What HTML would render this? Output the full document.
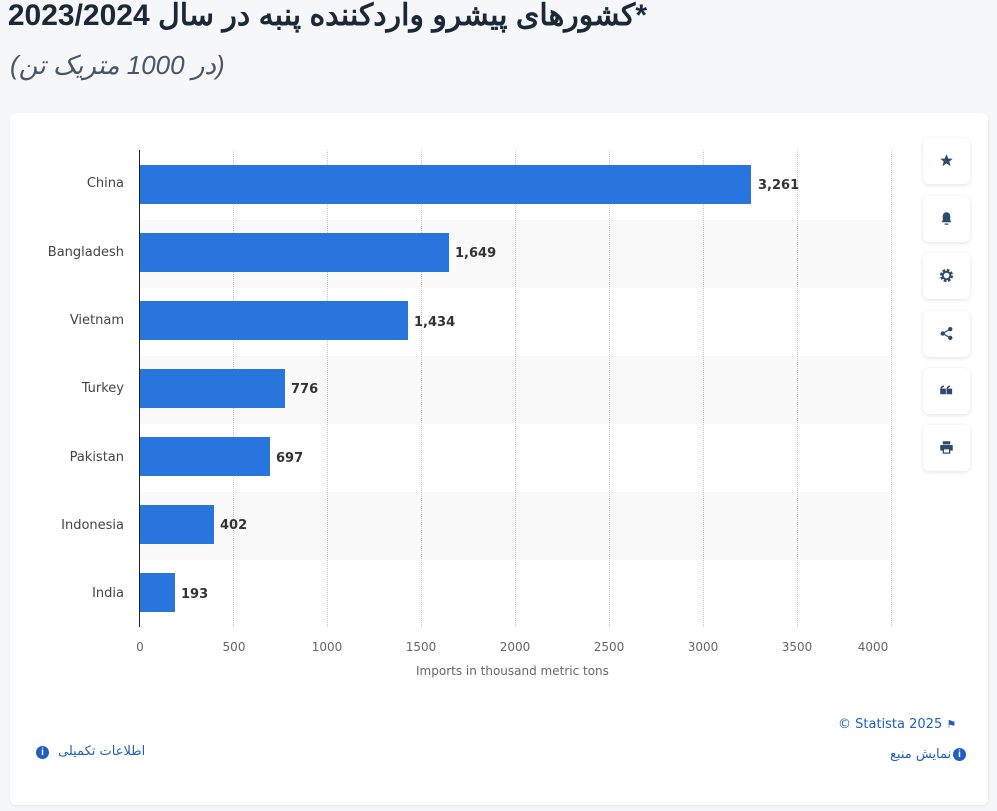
<!DOCTYPE html>
<html><head><meta charset="utf-8"><style>
body{margin:0;width:997px;height:811px;background:#f6f7f9;font-family:"Liberation Sans","DejaVu Sans",sans-serif;position:relative;overflow:hidden}
.abs{position:absolute}
.title{right:350px;top:-2px;font-size:30px;font-weight:bold;color:#1b2838;direction:rtl;white-space:nowrap;font-family:"Liberation Sans","Noto Sans CJK SC",sans-serif}
.sub{left:10px;top:50px;font-size:26px;font-style:italic;color:#4a5568;direction:rtl;white-space:nowrap}
.card{left:10px;top:113px;width:978px;height:692px;background:#fff;border-radius:6px;box-shadow:0 1px 3px rgba(0,0,0,.08)}
.stripe{left:139px;width:751px;height:68px;background:#f9f9f9}
.grid{top:150px;height:477px;width:0;border-left:1px dotted #c8c8c8}
.bar{left:140px;height:39px;background:#2876dd}
.val{font-size:13px;font-weight:bold;color:#333;font-family:"DejaVu Sans",sans-serif}
.cat{right:873px;font-size:13px;color:#444;font-family:"DejaVu Sans",sans-serif;text-align:right}
.tick{top:640px;font-size:12px;color:#666;font-family:"DejaVu Sans",sans-serif;width:50px;text-align:center}
.btn{left:923px;width:47px;height:46px;background:#fff;border-radius:6px;box-shadow:0 1px 4px rgba(0,0,0,.12)}
.btn svg{position:absolute;left:16px;top:15px}
.info{width:13px;height:13px;border-radius:50%;background:#1d5fc2;color:#fff;font-size:10px;font-weight:bold;text-align:center;line-height:13px}
.link{font-size:13px;color:#1d5fc2;font-family:"DejaVu Sans",sans-serif}
</style></head><body>
<div class="abs title">*کشورهای پیشرو واردکننده پنبه در سال 2023/2024</div>
<div class="abs sub">(در 1000 متریک تن)</div>
<div class="abs card"></div>
<div class="abs stripe" style="top:220px"></div>
<div class="abs stripe" style="top:356px"></div>
<div class="abs stripe" style="top:492px"></div>
<div class="abs grid" style="left:233px"></div>
<div class="abs grid" style="left:327px"></div>
<div class="abs grid" style="left:421px"></div>
<div class="abs grid" style="left:515px"></div>
<div class="abs grid" style="left:609px"></div>
<div class="abs grid" style="left:703px"></div>
<div class="abs grid" style="left:797px"></div>
<div class="abs grid" style="left:891px"></div>
<div class="abs" style="left:139px;top:150px;width:1px;height:477px;background:#222"></div>
<div class="abs bar" style="top:165px;width:611px"></div><div class="abs val" style="left:758px;top:178px">3,261</div><div class="abs cat" style="top:176px">China</div>
<div class="abs bar" style="top:233px;width:309px"></div><div class="abs val" style="left:455px;top:246px">1,649</div><div class="abs cat" style="top:245px">Bangladesh</div>
<div class="abs bar" style="top:301px;width:268px"></div><div class="abs val" style="left:414px;top:315px">1,434</div><div class="abs cat" style="top:313px">Vietnam</div>
<div class="abs bar" style="top:369px;width:145px"></div><div class="abs val" style="left:291px;top:382px">776</div><div class="abs cat" style="top:381px">Turkey</div>
<div class="abs bar" style="top:437px;width:130px"></div><div class="abs val" style="left:276px;top:451px">697</div><div class="abs cat" style="top:450px">Pakistan</div>
<div class="abs bar" style="top:505px;width:74px"></div><div class="abs val" style="left:220px;top:518px">402</div><div class="abs cat" style="top:518px">Indonesia</div>
<div class="abs bar" style="top:573px;width:35px"></div><div class="abs val" style="left:181px;top:587px">193</div><div class="abs cat" style="top:586px">India</div>
<div class="abs tick" style="left:115px">0</div>
<div class="abs tick" style="left:209px">500</div>
<div class="abs tick" style="left:302px">1000</div>
<div class="abs tick" style="left:396px">1500</div>
<div class="abs tick" style="left:490px">2000</div>
<div class="abs tick" style="left:584px">2500</div>
<div class="abs tick" style="left:678px">3000</div>
<div class="abs tick" style="left:772px">3500</div>
<div class="abs tick" style="left:848px">4000</div>
<div class="abs" style="left:416px;top:664px;font-size:12px;color:#666;font-family:'DejaVu Sans',sans-serif">Imports in thousand metric tons</div>
<div class="abs btn" style="top:138px"><svg width="15" height="15" viewBox="0 0 24 24"><path d="M12 2l3 7h7l-5.5 4.5 2 7.5-6.5-4.5-6.5 4.5 2-7.5L2 9h7z" fill="#2d4a6e"/></svg></div>
<div class="abs btn" style="top:196px"><svg width="15" height="15" viewBox="0 0 24 24"><path d="M12 2c-4 0-6 3-6 7v6l-2 3h16l-2-3V9c0-4-2-7-6-7zM9 20h6v2H9z" fill="#2d4a6e"/></svg></div>
<div class="abs btn" style="top:253px"><svg width="15" height="15" viewBox="0 0 24 24"><circle cx="12" cy="12" r="8" fill="none" stroke="#2d4a6e" stroke-width="5" stroke-dasharray="4 2.3"/><circle cx="12" cy="12" r="6" fill="none" stroke="#2d4a6e" stroke-width="3"/></svg></div>
<div class="abs btn" style="top:311px"><svg width="15" height="15" viewBox="0 0 24 24"><circle cx="18" cy="5" r="3.5" fill="#2d4a6e"/><circle cx="6" cy="12" r="3.5" fill="#2d4a6e"/><circle cx="18" cy="19" r="3.5" fill="#2d4a6e"/><path d="M18 5L6 12l12 7" stroke="#2d4a6e" stroke-width="2" fill="none"/></svg></div>
<div class="abs btn" style="top:368px"><svg width="15" height="15" viewBox="0 0 24 24"><path d="M3 10h7v7H3zM3 10c0-3 2-5 5-5M13 10h7v7h-7zM13 10c0-3 2-5 5-5" fill="#2d4a6e" stroke="#2d4a6e" stroke-width="2"/></svg></div>
<div class="abs btn" style="top:425px"><svg width="15" height="15" viewBox="0 0 24 24"><path d="M6 2h12v5H6zM2 8h20v9h-4v5H6v-5H2zM8 15v5h8v-5z" fill="#2d4a6e" fill-rule="evenodd"/></svg></div>
<div class="abs link" style="left:838px;top:717px">© Statista 2025 <span style="font-size:11px">⚑</span></div>
<div class="abs link" style="left:890px;top:747px;direction:rtl">نمایش منبع</div>
<div class="abs info" style="left:953px;top:748px">i</div>
<div class="abs info" style="left:36px;top:746px">i</div>
<div class="abs link" style="left:58px;top:744px;direction:rtl">اطلاعات تکمیلی</div>
</body></html>
